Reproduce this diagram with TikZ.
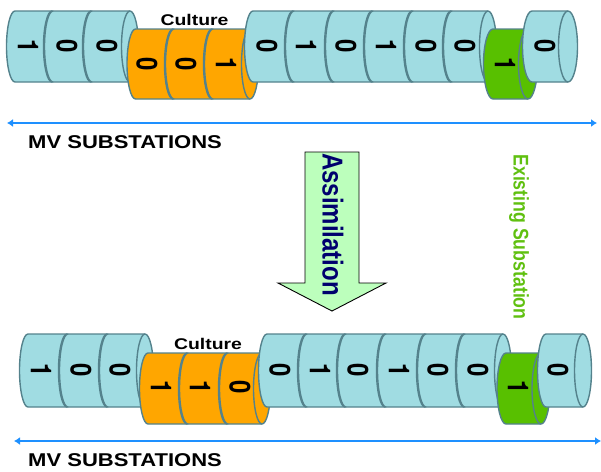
\documentclass[tikz,border=0pt]{standalone}
\usepackage{graphicx}
\usepackage{fontspec}
\setmainfont{Liberation Sans}
\newfontfamily\digitfont{TeX Gyre Heros}
\usetikzlibrary{arrows.meta}
\definecolor{cylblue}{RGB}{160,220,226}
\definecolor{cylorange}{RGB}{255,166,0}
\definecolor{cylgreen}{RGB}{88,192,0}
\definecolor{cyledge}{RGB}{84,130,140}
\definecolor{spanblue}{RGB}{30,144,255}
\definecolor{arrowfill}{RGB}{188,255,188}
\definecolor{navytext}{RGB}{0,0,110}
\definecolor{greentext}{RGB}{96,192,16}
\newcommand{\cylseg}[6]{% x0,x1,top,bottom,fill,rx
  \pgfmathsetmacro{\cm}{(#3+#4)/2}
  \pgfmathsetmacro{\cr}{(#4-#3)/2*0.55}
  \pgfmathsetmacro{\cq}{#6*0.55}
  \draw[cylline,fill=#5] (#1,#3) -- (#2,#3)
    .. controls ({#2+\cq},#3) and ({#2+#6},{\cm-\cr}) .. ({#2+#6},\cm)
    .. controls ({#2+#6},{\cm+\cr}) and ({#2+\cq},#4) .. (#2,#4)
    -- (#1,#4)
    .. controls ({#1-\cq},#4) and ({#1-#6},{\cm+\cr}) .. ({#1-#6},\cm)
    .. controls ({#1-#6},{\cm-\cr}) and ({#1-\cq},#3) .. (#1,#3) -- cycle;
  \draw[cylline] (#2,#3)
    .. controls ({#2-\cq},#3) and ({#2-#6},{\cm-\cr}) .. ({#2-#6},\cm)
    .. controls ({#2-#6},{\cm+\cr}) and ({#2-\cq},#4) .. (#2,#4);
}
\newcommand{\widetext}[2]{\scalebox{#1}[1]{#2}}
\newcommand{\downtext}[1]{\scalebox{1.2}[1]{\rotatebox{-90}{#1}}}
\tikzset{
  cylline/.style={draw=cyledge,line width=1.4pt},
  digit/.style={font=\fontsize{24}{24}\selectfont\digitfont\bfseries,inner sep=0pt,text=black},
  heading/.style={font=\fontsize{18.5}{20}\selectfont\bfseries,inner sep=0pt,anchor=west,text=black},
  culturelabel/.style={font=\fontsize{15.5}{17}\selectfont\bfseries,inner sep=0pt,text=black},
  spanline/.style={draw=spanblue,line width=1.3pt,{Latex[length=6pt,width=8pt]}-{Latex[length=6pt,width=8pt]}}
}
\begin{document}
\begin{tikzpicture}[x=1pt,y=-1pt]
\useasboundingbox (0,0) rectangle (601,471);
% top row
\cylseg{15}{52}{11}{82}{cylblue}{8.5}
\cylseg{53}{91}{11}{82}{cylblue}{8.5}
\cylseg{92}{130}{11}{82}{cylblue}{8.5}
\cylseg{135.5}{173}{29}{99}{cylorange}{8.5}
\cylseg{174}{212}{29}{99}{cylorange}{8.5}
\cylseg{213}{250}{29}{99}{cylorange}{8.5}
\cylseg{253}{293}{11}{82}{cylblue}{8.5}
\cylseg{294}{333}{11}{82}{cylblue}{8.5}
\cylseg{334}{372}{11}{82}{cylblue}{8.5}
\cylseg{373}{412}{11}{82}{cylblue}{8.5}
\cylseg{413}{451}{11}{82}{cylblue}{8.5}
\cylseg{452}{488}{11}{82}{cylblue}{8.5}
\cylseg{493}{528}{29}{99}{cylgreen}{9.5}
\cylseg{532}{568}{11}{82}{cylblue}{9.5}
\foreach \nm/\px/\py/\tx in {a/28/46/1,b/67/46/0,c/107/46/0,d/147/64/0,e/186/64/0,f/226/64/1,g/267/46/0,h/306/46/1,i/346/46/0,j/386/46/1,k/426/46/0,l/465/46/0,m/505/64/1,n/545/46/0}
  \node[digit] (t\nm) at (\px,\py) {\downtext{\tx}};
\node[culturelabel] (culturetop) at (194.5,20) {\widetext{1.25}{Culture}};
\coordinate (tl) at (7,123);
\coordinate (tr) at (597,123);
\draw[spanline] (tl) -- (tr);
\node[heading] (mvtop) at (28,142) {\widetext{1.19}{MV SUBSTATIONS}};
% assimilation arrow
\draw[black,line width=0.9pt,fill=arrowfill,line join=miter] (305,152) -- (359,152) -- (359,283) -- (386,283) -- (332,311) -- (278,283) -- (305,283) -- cycle;
\node[inner sep=0pt,text=navytext,font=\fontsize{24}{26}\selectfont\bfseries] (assim) at (333,224.5) {\downtext{Assimilation}};
\node[inner sep=0pt,text=greentext,font=\fontsize{17.7}{19}\selectfont\bfseries] (exist) at (519,237) {\downtext{Existing Substation}};
% bottom row
\cylseg{28}{67}{334}{407}{cylblue}{8.5}
\cylseg{68}{107}{334}{407}{cylblue}{8.5}
\cylseg{108}{145}{334}{407}{cylblue}{8.5}
\cylseg{148}{187}{353}{424}{cylorange}{8.5}
\cylseg{188}{227}{353}{424}{cylorange}{8.5}
\cylseg{228}{262}{353}{424}{cylorange}{8.5}
\cylseg{267}{306}{334}{407}{cylblue}{8.5}
\cylseg{307}{345}{334}{407}{cylblue}{8.5}
\cylseg{346}{385}{334}{407}{cylblue}{8.5}
\cylseg{386}{425}{334}{407}{cylblue}{8.5}
\cylseg{426}{464}{334}{407}{cylblue}{8.5}
\cylseg{465}{503}{334}{407}{cylblue}{8.5}
\cylseg{506}{541}{353}{424}{cylgreen}{9}
\cylseg{546}{583}{334}{407}{cylblue}{8.5}
\foreach \nm/\px/\py/\tx in {a/41/370/1,b/81/370/0,c/120/370/0,d/161/387/1,e/200/387/1,f/240/387/0,g/280/370/0,h/320/370/1,i/358/370/0,j/399/370/1,k/438/370/0,l/478/370/0,m/518/387/1,n/558/370/0}
  \node[digit] (b\nm) at (\px,\py) {\downtext{\tx}};
\node[culturelabel] (culturebot) at (208,344) {\widetext{1.25}{Culture}};
\coordinate (bl) at (14,441);
\coordinate (br) at (601,441);
\draw[spanline] (bl) -- (br);
\node[heading] (mvbot) at (28,460) {\widetext{1.19}{MV SUBSTATIONS}};
\end{tikzpicture}
\end{document}
